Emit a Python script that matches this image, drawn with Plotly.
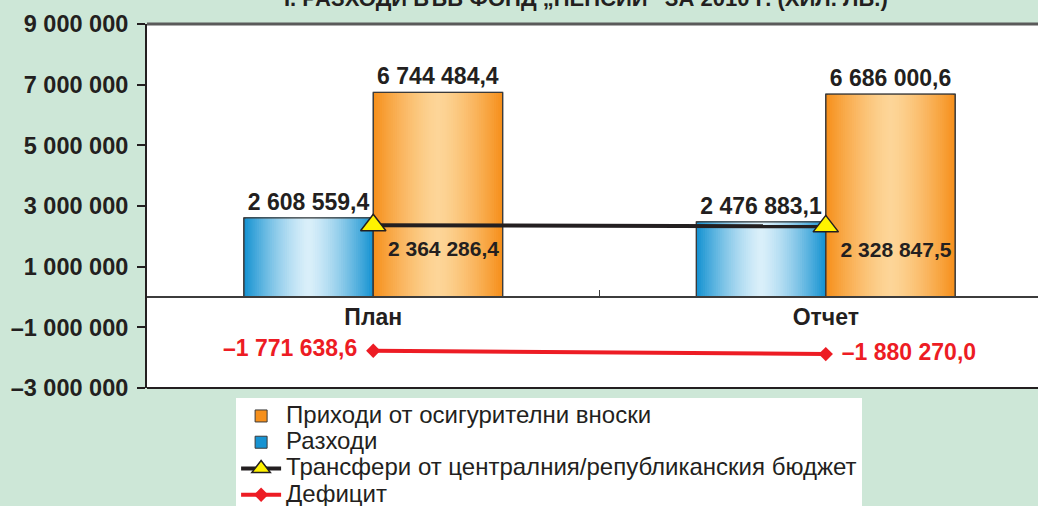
import plotly.graph_objects as go

# ---- data (thousand BGN) ----
categories = ["План", "Отчет"]
revenue = [6744484.4, 6686000.6]      # Приходи от осигурителни вноски
expenses = [2608559.4, 2476883.1]     # Разходи
transfers = [2364286.4, 2328847.5]    # Трансфери от централния/републиканския бюджет
deficit = [-1771638.6, -1880270.0]    # Дефицит
y_ticks = [-3000000, -1000000, 1000000, 3000000, 5000000, 7000000, 9000000]

series_names = {
    "revenue": "Приходи от осигурителни вноски",
    "expenses": "Разходи",
    "transfers": "Трансфери от централния/републиканския бюджет",
    "deficit": "Дефицит",
}
title_text = "I. РАЗХОДИ ВЪВ ФОНД „ПЕНСИИ“ ЗА 2010 Г. (ХИЛ. ЛВ.)"

# ---- styling ----
FONT = "Liberation Sans, Arial, Helvetica, sans-serif"
INK = "#231f20"
RED = "#ed1c24"
OUTLINE = "#3a3a3a"
BG = "#cde7d7"
BAR_W = 0.286          # bar width in category units
N_LAYERS = 30          # steps of the horizontal colour gradient
LEGEND_TEXT_PX = 24    # legend label size; rows are spaced by the legend font size


def fmt(v, decimals=1):
    s = f"{abs(v):,.{decimals}f}".replace(",", " ").replace(".", ",")
    return ("–" if v < 0 else "") + s


def legend_label(text):
    return f'<span style="font-size:{LEGEND_TEXT_PX}px">{text}</span>'


def hex_to_rgb(h):
    h = h.lstrip("#")
    return tuple(int(h[i:i + 2], 16) for i in (0, 2, 4))


def mix(c1, c2, t):
    a, b = hex_to_rgb(c1), hex_to_rgb(c2)
    return "rgb(%d,%d,%d)" % tuple(round(a[i] + (b[i] - a[i]) * t) for i in range(3))


fig = go.Figure()


def add_gradient_bars(values, name, edge, center, base_offset, rank):
    # nested, progressively narrower bars give a light centre and dark edges
    for k in range(N_LAYERS):
        f = 1 - k / N_LAYERS
        w = BAR_W * f
        fig.add_trace(go.Bar(
            x=categories, y=values, width=w,
            offset=base_offset + (BAR_W - w) / 2,
            marker=dict(color=mix(center, edge, f ** 1.4),
                        line=dict(width=1 if k == 0 else 0, color=OUTLINE)),
            name=legend_label(name), showlegend=(k == 0), legendrank=rank,
            hoverinfo="skip",
        ))
    # outline on top with the value label
    fig.add_trace(go.Bar(
        x=categories, y=values, width=BAR_W, offset=base_offset,
        marker=dict(color="rgba(0,0,0,0)", line=dict(width=1.2, color=OUTLINE)),
        text=[fmt(v) for v in values], textposition="outside",
        textfont=dict(family=FONT, size=23, color=INK, weight="bold"),
        cliponaxis=False, showlegend=False, name=name,
    ))


add_gradient_bars(expenses, series_names["expenses"], "#1793d2", "#dbf0fa", -BAR_W, 2)
add_gradient_bars(revenue, series_names["revenue"], "#f6901c", "#fdd699", 0.0, 1)

fig.add_trace(go.Scatter(
    x=categories, y=transfers, mode="lines+markers+text",
    name=legend_label(series_names["transfers"]), legendrank=3,
    line=dict(color=INK, width=4),
    marker=dict(symbol="triangle-up", size=22, color="#fff200",
                line=dict(color=INK, width=1.5)),
    text=[fmt(v) for v in transfers], textposition="bottom right",
    textfont=dict(family=FONT, size=21, color=INK, weight="bold"),
    cliponaxis=False,
))

fig.add_trace(go.Scatter(
    x=categories, y=deficit, mode="lines+markers",
    name=legend_label(series_names["deficit"]), legendrank=4,
    line=dict(color=RED, width=4),
    marker=dict(symbol="diamond", size=11, color=RED),
    cliponaxis=False,
))
# deficit value labels, set a little further from the diamonds
fig.add_trace(go.Scatter(
    x=categories, y=deficit, mode="markers+text",
    marker=dict(size=24, color="rgba(0,0,0,0)"),
    text=[fmt(v) for v in deficit], textposition=["middle left", "middle right"],
    textfont=dict(family=FONT, size=23, color=RED, weight="bold"),
    showlegend=False, hoverinfo="skip", cliponaxis=False,
))

fig.update_layout(
    width=1038, height=506,
    margin=dict(l=147, r=0, t=24, b=118, autoexpand=False),
    paper_bgcolor=BG, plot_bgcolor="white",
    barmode="overlay",
    showlegend=True,
    legend=dict(
        x=0.1, y=-0.027, xanchor="left", yanchor="top",
        bgcolor="white", borderwidth=0,
        font=dict(family=FONT, size=17.9, color=INK),
        tracegroupgap=0, itemwidth=40,
    ),
    xaxis=dict(
        type="category", range=[-0.5, 1.469],
        anchor="free", position=0.25,
        showline=True, linecolor="#3c3c3c", linewidth=1.5,
        ticks="inside", tickson="boundaries", ticklen=6,
        tickcolor="#3c3c3c", tickwidth=1,
        tickfont=dict(family=FONT, size=23, color=INK, weight="bold"),
        showgrid=False, zeroline=False,
    ),
    yaxis=dict(
        range=[-3000000, 9000000],
        tickvals=y_ticks, ticktext=[fmt(v, 0) for v in y_ticks],
        showline=True, linecolor=INK, linewidth=2,
        ticks="outside", ticklen=8, tickcolor=INK, tickwidth=1.5,
        ticklabelstandoff=4,
        tickfont=dict(family=FONT, size=23.5, color=INK, weight="bold"),
        showgrid=False, zeroline=False,
    ),
    shapes=[
        dict(type="line", xref="paper", yref="paper", x0=0, x1=1, y0=1, y1=1,
             line=dict(color="#5a5a5a", width=3)),
        dict(type="line", xref="paper", yref="paper", x0=0, x1=1, y0=0, y1=0,
             line=dict(color=INK, width=2)),
    ],
    annotations=[
        dict(text=title_text, xref="paper", yref="paper", x=0.4927, y=1.0714,
             xanchor="center", yanchor="middle", showarrow=False,
             font=dict(family=FONT, size=22, color=INK, weight="bold")),
    ],
)

fig.write_html("out.html")
